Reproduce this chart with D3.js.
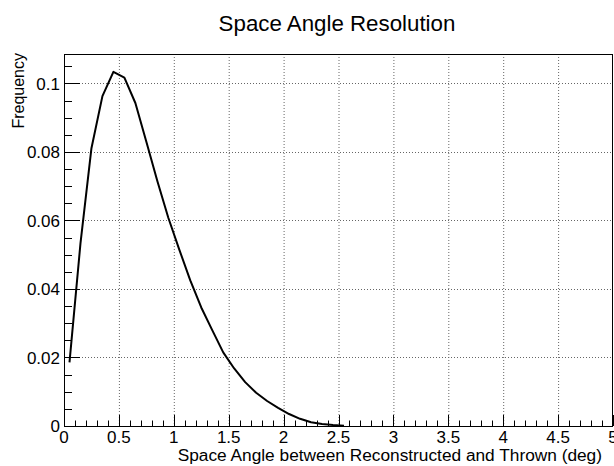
<!DOCTYPE html>
<html><head><meta charset="utf-8">
<script src="https://cdn.jsdelivr.net/npm/d3@7"></script>
<style>html,body{margin:0;padding:0;background:#fff;}svg{display:block;font-family:"Liberation Sans",Arial,Helvetica,sans-serif;}</style>
</head><body>
<svg id="c" width="614" height="466"></svg>
<script>
const title = "Space Angle Resolution";
const xTitle = "Space Angle between Reconstructed and Thrown (deg)";
const yTitle = "Frequency";
const angle = [0.05,0.15,0.25,0.35,0.45,0.55,0.65,0.75,0.85,0.95,1.05,1.15,1.25,1.35,1.45,1.55,1.65,1.75,1.85,1.95,2.05,2.15,2.25,2.35,2.45,2.55];
const freq  = [0.0186,0.0533,0.0811,0.0963,0.1034,0.1017,0.0943,0.0830,0.0715,0.0608,0.0515,0.0425,0.0346,0.0280,0.0215,0.0168,0.0128,0.0097,0.0073,0.0053,0.0035,0.0021,0.0011,0.0006,0.0003,0.0001];
const xTicks = [0,0.5,1,1.5,2,2.5,3,3.5,4,4.5,5];
const xTickLabels = ["0","0.5","1","1.5","2","2.5","3","3.5","4","4.5","5"];
const yTicks = [0,0.02,0.04,0.06,0.08,0.1];
const yTickLabels = ["0","0.02","0.04","0.06","0.08","0.1"];

const svg = d3.select("#c");
const L = 64, R = 613, T = 54, B = 426;
const x = d3.scaleLinear().domain([0,5]).range([L,R]);
const y = d3.scaleLinear().domain([0,0.1086]).range([B,T]);

// grid
const g = svg.append("g");
g.selectAll("line.vx").data(xTicks.filter(d=>d>0 && d<5)).join("line")
  .attr("x1",d=>x(d)+0.5).attr("x2",d=>x(d)+0.5).attr("y1",T).attr("y2",B)
  .attr("stroke","#666").attr("stroke-width",1).attr("stroke-dasharray","1,2");
g.selectAll("line.hy").data(yTicks.filter(d=>d>0)).join("line")
  .attr("y1",d=>Math.round(y(d))+0.5).attr("y2",d=>Math.round(y(d))+0.5).attr("x1",L).attr("x2",R)
  .attr("stroke","#666").attr("stroke-width",1).attr("stroke-dasharray","1,2");

// minor ticks
const xMinor = d3.range(0,5.0001,0.1);
const yMinor = d3.range(0,0.1086,0.005);
svg.append("g").selectAll("line").data(xMinor).join("line")
  .attr("x1",d=>Math.round(x(d))+0.5).attr("x2",d=>Math.round(x(d))+0.5)
  .attr("y1",B).attr("y2",d=>B-(xTicks.some(t=>Math.abs(t-d)<1e-6)?11:5.5))
  .attr("stroke","#000").attr("stroke-width",1);
svg.append("g").selectAll("line").data(yMinor).join("line")
  .attr("y1",d=>Math.round(y(d))+0.5).attr("y2",d=>Math.round(y(d))+0.5)
  .attr("x1",L).attr("x2",d=>L+(yTicks.some(t=>Math.abs(t-d)<1e-6)?16:8))
  .attr("stroke","#000").attr("stroke-width",1);

// frame
svg.append("rect").attr("x",L+0.5).attr("y",T+0.5).attr("width",R-L-1).attr("height",B-T)
  .attr("fill","none").attr("stroke","#000").attr("stroke-width",1);

// tick labels
svg.append("g").selectAll("text").data(yTicks).join("text")
  .attr("x",60).attr("y",d=>y(d)).attr("dy","0.36em").attr("text-anchor","end")
  .attr("font-size",17).text((d,i)=>yTickLabels[i]);
svg.append("g").selectAll("text").data(xTicks).join("text")
  .attr("x",d=>x(d)).attr("y",443).attr("text-anchor","middle")
  .attr("font-size",17).text((d,i)=>xTickLabels[i]);

// titles
svg.append("text").attr("x",337).attr("y",31).attr("text-anchor","middle").attr("font-size",22.3).text(title);
svg.append("text").attr("x",602).attr("y",461).attr("text-anchor","end").attr("font-size",17.3).text(xTitle);
svg.append("text").attr("transform","translate(24,53) rotate(-90)").attr("text-anchor","end").attr("font-size",16).text(yTitle);

// curve
const line = d3.line().x((d,i)=>x(angle[i])).y(d=>y(d));
svg.append("path").datum(freq).attr("d",line).attr("fill","none")
  .attr("stroke","#000").attr("stroke-width",2).attr("stroke-linejoin","round");
</script>
</body></html>
